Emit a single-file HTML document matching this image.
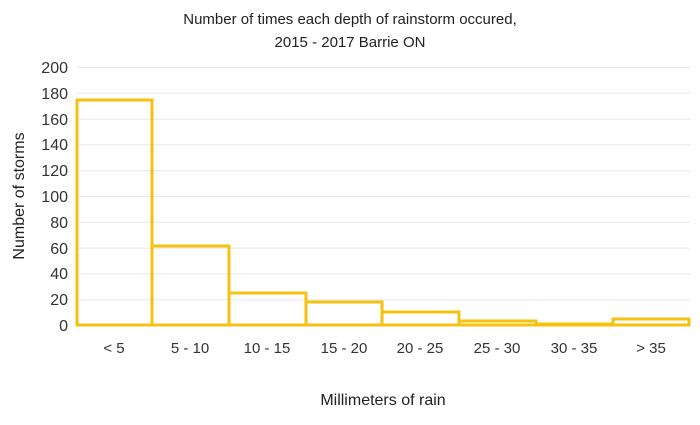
<!DOCTYPE html><html><head><style>body{margin:0;background:#fff}</style></head><body>
<svg width="700" height="420" xmlns="http://www.w3.org/2000/svg" font-family="Liberation Sans, sans-serif">
<text x="350" y="24" text-anchor="middle" font-size="15" fill="#222">Number of times each depth of rainstorm occured,</text>
<text x="350" y="47" text-anchor="middle" font-size="15" fill="#222">2015 - 2017 Barrie ON</text>
<g stroke="#e8e8e8" stroke-width="1">
<line x1="77" x2="690" y1="67.5" y2="67.5"/><line x1="77" x2="690" y1="93.3" y2="93.3"/><line x1="77" x2="690" y1="119.1" y2="119.1"/><line x1="77" x2="690" y1="144.9" y2="144.9"/><line x1="77" x2="690" y1="170.7" y2="170.7"/><line x1="77" x2="690" y1="196.5" y2="196.5"/><line x1="77" x2="690" y1="222.3" y2="222.3"/><line x1="77" x2="690" y1="248.1" y2="248.1"/><line x1="77" x2="690" y1="273.9" y2="273.9"/><line x1="77" x2="690" y1="299.7" y2="299.7"/>
</g>
<g font-size="16" fill="#333" text-anchor="end">
<text x="68" y="73">200</text><text x="68" y="99">180</text><text x="68" y="125">160</text><text x="68" y="150">140</text><text x="68" y="176">120</text><text x="68" y="202">100</text><text x="68" y="228">80</text><text x="68" y="254">60</text><text x="68" y="279">40</text><text x="68" y="305">20</text><text x="68" y="331">0</text>
</g>
<text transform="translate(24,196) rotate(-90)" text-anchor="middle" font-size="16" fill="#222">Number of storms</text>
<g fill="none" stroke="#F5C30F" stroke-width="3">
<rect x="77" y="100" width="75" height="225"/>
<rect x="152" y="246" width="77" height="79"/>
<rect x="229" y="293" width="77" height="32"/>
<rect x="306" y="302" width="76" height="23"/>
<rect x="382" y="312" width="77" height="13"/>
<rect x="459" y="321" width="77" height="4"/>
<rect x="536" y="324" width="77" height="1"/>
<rect x="613" y="319" width="76" height="6"/>
</g>
<line x1="77" x2="690" y1="325" y2="325" stroke="#F5C30F" stroke-width="3"/>
<g font-size="15" fill="#333" text-anchor="middle">
<text x="114" y="353">&lt; 5</text><text x="190" y="353">5 - 10</text><text x="267" y="353">10 - 15</text><text x="344" y="353">15 - 20</text><text x="420" y="353">20 - 25</text><text x="497" y="353">25 - 30</text><text x="574" y="353">30 - 35</text><text x="651" y="353">&gt; 35</text>
</g>
<text x="383" y="405" text-anchor="middle" font-size="16" fill="#222">Millimeters of rain</text>
</svg>
</body></html>
